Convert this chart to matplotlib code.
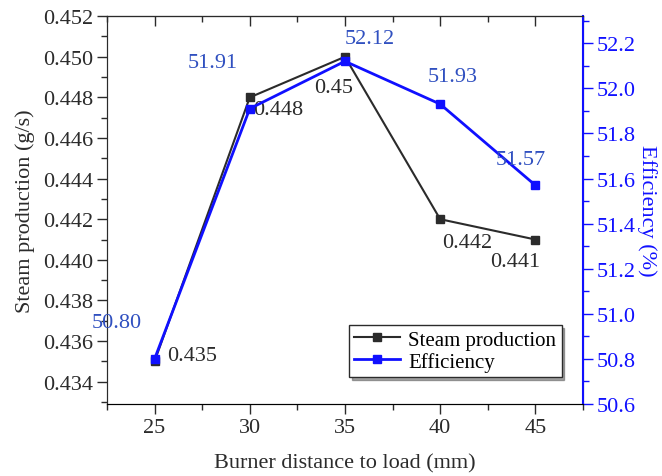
import matplotlib
matplotlib.use('Agg')
import matplotlib.pyplot as plt
from matplotlib.ticker import MultipleLocator, FormatStrFormatter

# ── Data ──────────────────────────────────────────────────────────────────────
distance   = [25, 30, 35, 40, 45]
steam      = [0.435, 0.448, 0.450, 0.442, 0.441]
efficiency = [50.80, 51.91, 52.12, 51.93, 51.57]
steam_labels = ['0.435', '0.448', '0.45', '0.442', '0.441']
eff_labels   = ['50.80', '51.91', '52.12', '51.93', '51.57']

# label offsets in pixels from each point
steam_offsets = [(38, 6), (28, -12), (-11, -31), (27, -23), (-20, -22)]
eff_offsets   = [(-38, 36), (-37, 46), (25, 23), (13, 28), (-15, 26)]

BLACK = '#2b2b2b'
BLUE  = '#1010ff'
LBLUE = '#3050c0'
FS = 16

plt.rcParams['font.family'] = ['Liberation Serif', 'DejaVu Serif']

fig = plt.figure(figsize=(6.62, 4.77), dpi=100)
ax = fig.add_axes([0.1616, 0.151, 0.719, 0.813])
ax2 = ax.twinx()

ax.plot(distance, steam, color=BLACK, lw=1.5, marker='s', ms=5.5,
        mfc=BLACK, mec=BLACK, label='Steam production', zorder=3)
ax2.plot(distance, efficiency, color=BLUE, lw=2, marker='s', ms=5.5,
         mfc=BLUE, mec=BLUE, label='Efficiency', zorder=3)

for x, y, t, off in zip(distance, steam, steam_labels, steam_offsets):
    ax.annotate(t, (x, y), xytext=off, textcoords='offset pixels',
                ha='center', va='center', fontsize=FS, color=BLACK)
for x, y, t, off in zip(distance, efficiency, eff_labels, eff_offsets):
    ax2.annotate(t, (x, y), xytext=off, textcoords='offset pixels',
                 ha='center', va='center', fontsize=FS, color=LBLUE)

ax.set_xlim(22.5, 47.5)
ax.set_ylim(0.4329, 0.452)
ax2.set_ylim(50.6, 52.32)

ax.xaxis.set_major_locator(MultipleLocator(5))
ax.xaxis.set_minor_locator(MultipleLocator(2.5))
ax.yaxis.set_major_locator(MultipleLocator(0.002))
ax.yaxis.set_minor_locator(MultipleLocator(0.001))
ax.yaxis.set_major_formatter(FormatStrFormatter('%.3f'))
ax2.yaxis.set_major_locator(MultipleLocator(0.2))
ax2.yaxis.set_minor_locator(MultipleLocator(0.1))
ax2.yaxis.set_major_formatter(FormatStrFormatter('%.1f'))

ax.tick_params(axis='both', which='both', direction='out', labelsize=FS,
               colors=BLACK, pad=3)
ax.tick_params(which='major', length=7, width=1)
ax.tick_params(which='minor', length=4, width=1)
ax2.tick_params(axis='y', which='both', direction='out', colors=BLUE,
                labelsize=FS, pad=3)
ax2.tick_params(which='major', length=7, width=1)
ax2.tick_params(which='minor', length=4, width=1)

# inward ticks along the top edge
top = ax.secondary_xaxis('top')
top.xaxis.set_major_locator(MultipleLocator(5))
top.xaxis.set_minor_locator(MultipleLocator(2.5))
top.tick_params(which='both', direction='in', labeltop=False, colors=BLACK)
top.tick_params(which='major', length=7, width=1)
top.tick_params(which='minor', length=4, width=1)
top.spines['top'].set_color(BLACK)

for s in ['left', 'bottom', 'top']:
    ax.spines[s].set_color(BLACK)
ax2.spines['right'].set_color(BLUE)
ax2.spines['right'].set_linewidth(1.5)
ax2.spines['left'].set_color(BLACK)
ax2.spines['top'].set_color(BLACK)

ax.set_xlabel('Burner distance to load (mm)', fontsize=FS, color=BLACK, labelpad=12)
ax.set_ylabel('Steam production (g/s)', fontsize=FS, color=BLACK, labelpad=6)
ax2.set_ylabel('Efficiency (%)', fontsize=FS, color=BLUE, rotation=270, labelpad=15)

h1, l1 = ax.get_legend_handles_labels()
h2, l2 = ax2.get_legend_handles_labels()
leg = ax2.legend(h1 + h2, l1 + l2, loc='lower right', bbox_to_anchor=(0.955, 0.07),
                 fontsize=15, frameon=True, fancybox=False, shadow=True,
                 edgecolor=BLACK, handlelength=2.2, borderpad=0.25,
                 labelspacing=0.1, handletextpad=0.4, borderaxespad=0)
leg.get_frame().set_linewidth(1)

fig.savefig('out.png', dpi=100)
